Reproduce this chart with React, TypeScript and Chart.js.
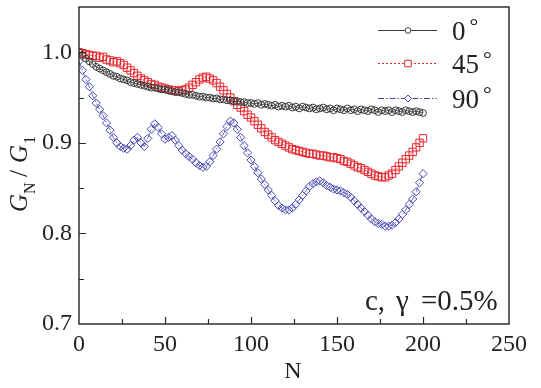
import React, { useEffect, useRef } from "react";
import { Chart, registerables } from "chart.js";

Chart.register(...registerables);

const N_VALUES = [
  0, 2, 4, 6, 8, 10, 12, 14, 16, 18,
  20, 22, 24, 26, 28, 30, 32, 34, 36, 38,
  40, 42, 44, 46, 48, 50, 52, 54, 56, 58,
  60, 62, 64, 66, 68, 70, 72, 74, 76, 78,
  80, 82, 84, 86, 88, 90, 92, 94, 96, 98,
  100, 102, 104, 106, 108, 110, 112, 114, 116, 118,
  120, 122, 124, 126, 128, 130, 132, 134, 136, 138,
  140, 142, 144, 146, 148, 150, 152, 154, 156, 158,
  160, 162, 164, 166, 168, 170, 172, 174, 176, 178,
  180, 182, 184, 186, 188, 190, 192, 194, 196, 198,
  200,
];

const G_0DEG = [
  1.0, 0.997, 0.993, 0.99, 0.987, 0.984, 0.982, 0.98, 0.978, 0.976,
  0.974, 0.973, 0.971, 0.97, 0.969, 0.967, 0.966, 0.965, 0.964, 0.963,
  0.962, 0.961, 0.961, 0.96, 0.959, 0.959, 0.958, 0.957, 0.956, 0.956,
  0.955, 0.954, 0.953, 0.953, 0.952, 0.951, 0.951, 0.95, 0.95, 0.949,
  0.949, 0.948, 0.948, 0.947, 0.947, 0.946, 0.946, 0.945, 0.945, 0.944,
  0.944, 0.943, 0.944, 0.942, 0.943, 0.942, 0.941, 0.942, 0.94, 0.941,
  0.94, 0.941, 0.939, 0.94, 0.938, 0.94, 0.939, 0.938, 0.939, 0.937,
  0.938, 0.939, 0.937, 0.938, 0.936, 0.938, 0.937, 0.936, 0.938, 0.936,
  0.937, 0.935, 0.937, 0.936, 0.935, 0.937, 0.936, 0.934, 0.936, 0.935,
  0.936, 0.934, 0.936, 0.935, 0.934, 0.936, 0.935, 0.934, 0.935, 0.934,
  0.933,
];

const G_45DEG = [
  1.0, 0.999, 0.998, 0.997, 0.996, 0.996, 0.994, 0.995, 0.992, 0.991,
  0.989, 0.99, 0.988, 0.986, 0.983, 0.98, 0.977, 0.974, 0.971, 0.969,
  0.967, 0.965, 0.964, 0.962, 0.961, 0.96, 0.959, 0.958, 0.958, 0.957,
  0.958, 0.959, 0.961, 0.964, 0.967, 0.97, 0.972, 0.973, 0.971, 0.969,
  0.966, 0.962, 0.958, 0.954, 0.95, 0.946, 0.942, 0.939, 0.935, 0.931,
  0.928, 0.924, 0.92, 0.916, 0.912, 0.909, 0.906, 0.903, 0.901, 0.899,
  0.897, 0.895, 0.893, 0.892, 0.891, 0.89, 0.889, 0.888, 0.888, 0.887,
  0.886, 0.886, 0.885, 0.884, 0.884, 0.883, 0.882, 0.88, 0.879, 0.877,
  0.875, 0.873, 0.872, 0.87, 0.868, 0.866, 0.864, 0.863, 0.862, 0.862,
  0.864, 0.866, 0.87, 0.874, 0.878, 0.882, 0.886, 0.89, 0.895, 0.9,
  0.905,
];

const G_90DEG = [
  0.99, 0.98, 0.97, 0.962, 0.952, 0.944, 0.937, 0.93, 0.922, 0.914,
  0.906, 0.9, 0.896, 0.894, 0.893, 0.897, 0.903, 0.906, 0.9, 0.896,
  0.905, 0.915, 0.921, 0.917, 0.91, 0.904, 0.906, 0.908, 0.903, 0.897,
  0.892, 0.888, 0.885, 0.882, 0.878, 0.875, 0.873, 0.874, 0.879, 0.886,
  0.893, 0.901, 0.91, 0.918, 0.924, 0.922, 0.915, 0.906, 0.897, 0.889,
  0.881, 0.874, 0.867, 0.86, 0.854, 0.848, 0.842, 0.836, 0.831, 0.828,
  0.826, 0.826, 0.828, 0.832, 0.837, 0.842, 0.847, 0.852, 0.855, 0.857,
  0.858, 0.856, 0.853, 0.851, 0.849, 0.848, 0.847, 0.845, 0.843, 0.84,
  0.836, 0.832, 0.828, 0.824, 0.82, 0.816, 0.813, 0.811, 0.81, 0.808,
  0.808, 0.809, 0.812, 0.816, 0.821, 0.826, 0.832, 0.838, 0.846, 0.856,
  0.866,
];

const X_TICKS = [0, 50, 100, 150, 200, 250];
const Y_TICKS = [0.7, 0.8, 0.9, 1.0];
const Y_MAX = 1.05;
const X_MINOR_STEP = 25;
const Y_MINOR_STEP = 0.05;
const SERIES_LABELS = ["0", "45", "90"];
const X_TITLE = "N";
const ANNOTATION_PARTS = ["c,", "γ", "=0.5%"];

const SERIF = "'Liberation Serif', 'Times New Roman', serif";
const AXIS_COLOR = "#262626";
const COLORS = ["#3a3a3a", "#e8262e", "#4646b4"];
const DASHES: number[][] = [[], [2, 2], [6, 2, 1.5, 2]];
const STYLES = ["circle", "rect", "rectRot"];
const RADII = [3.4, 5.2, 4.1];

function markerPath(ctx: CanvasRenderingContext2D, style: string, x: number, y: number, r: number) {
  ctx.beginPath();
  if (style === "circle") {
    ctx.arc(x, y, r, 0, Math.PI * 2);
  } else if (style === "rect") {
    const s = r * Math.SQRT1_2;
    ctx.rect(x - s, y - s, 2 * s, 2 * s);
  } else {
    ctx.moveTo(x - r, y);
    ctx.lineTo(x, y - r);
    ctx.lineTo(x + r, y);
    ctx.lineTo(x, y + r);
    ctx.closePath();
  }
}

const decorPlugin = {
  id: "decor",
  afterDraw(chart: any) {
    const { ctx, chartArea: a, scales } = chart;
    const xs = scales.x;
    const ys = scales.y;
    ctx.save();
    // frame
    ctx.strokeStyle = AXIS_COLOR;
    ctx.lineWidth = 1.4;
    ctx.setLineDash([]);
    ctx.strokeRect(a.left, a.top, a.right - a.left, a.bottom - a.top);
    // inward ticks
    ctx.lineWidth = 1.2;
    ctx.beginPath();
    const xMin = X_TICKS[0];
    const xMax = X_TICKS[X_TICKS.length - 1];
    for (let v = xMin + X_MINOR_STEP; v < xMax - 1e-9; v += X_MINOR_STEP) {
      const px = Math.round(xs.getPixelForValue(v)) + 0.5;
      const major = X_TICKS.some((t) => Math.abs(t - v) < 1e-9);
      ctx.moveTo(px, a.bottom);
      ctx.lineTo(px, a.bottom - (major ? 7 : 5));
    }
    for (let v = Y_TICKS[0] + Y_MINOR_STEP; v < Y_MAX - 1e-9; v += Y_MINOR_STEP) {
      const py = Math.round(ys.getPixelForValue(v)) + 0.5;
      const major = Y_TICKS.some((t) => Math.abs(t - v) < 1e-9);
      ctx.moveTo(a.left, py);
      ctx.lineTo(a.left + (major ? 7 : 5), py);
    }
    ctx.stroke();

    // x title
    ctx.fillStyle = "#222";
    ctx.font = `24px ${SERIF}`;
    ctx.textAlign = "center";
    ctx.textBaseline = "alphabetic";
    ctx.fillText(X_TITLE, 293, 378);

    // y title: G_N / G_1 rotated
    ctx.save();
    ctx.translate(27, 212);
    ctx.rotate(-Math.PI / 2);
    ctx.textAlign = "left";
    ctx.font = `italic 25px ${SERIF}`;
    ctx.fillText("G", 0, 0);
    ctx.font = `16px ${SERIF}`;
    ctx.fillText("N", 18, 8);
    ctx.font = `25px ${SERIF}`;
    ctx.fillText("/", 35, 0);
    ctx.font = `italic 25px ${SERIF}`;
    ctx.fillText("G", 49, 0);
    ctx.font = `16px ${SERIF}`;
    ctx.fillText("1", 68, 8);
    ctx.restore();

    // legend
    const rows = [30, 63, 98];
    chart.data.datasets.forEach((ds: any, i: number) => {
      const y = rows[i] + 0.5;
      ctx.strokeStyle = COLORS[i];
      ctx.lineWidth = 1;
      ctx.setLineDash(DASHES[i]);
      ctx.beginPath();
      ctx.moveTo(378, y);
      ctx.lineTo(437, y);
      ctx.stroke();
      ctx.setLineDash([]);
      ctx.fillStyle = "#fff";
      markerPath(ctx, STYLES[i], 408, y, RADII[i] - 0.6);
      ctx.fill();
      ctx.stroke();
      ctx.fillStyle = "#222";
      ctx.font = `27px ${SERIF}`;
      ctx.textAlign = "left";
      ctx.textBaseline = "alphabetic";
      const label = SERIES_LABELS[i];
      ctx.fillText(label, 452, rows[i] + 10);
      const w = ctx.measureText(label).width;
      ctx.font = `22px ${SERIF}`;
      ctx.fillText("°", 452 + w + 4, rows[i] + 3);
    });

    // annotation
    ctx.fillStyle = "#222";
    ctx.font = `29px ${SERIF}`;
    ctx.textBaseline = "alphabetic";
    ctx.textAlign = "left";
    ctx.fillText(ANNOTATION_PARTS[0], 365, 310);
    ctx.fillText(ANNOTATION_PARTS[1], 396, 310);
    ctx.fillText(ANNOTATION_PARTS[2], 421, 310);
    ctx.restore();
  },
};

export default function App() {
  const ref = useRef<HTMLCanvasElement | null>(null);

  useEffect(() => {
    if (!ref.current) return;
    const series = [G_0DEG, G_45DEG, G_90DEG];
    const chart = new Chart(ref.current, {
      type: "scatter",
      data: {
        datasets: series.map((vals, i) => ({
          label: SERIES_LABELS[i],
          data: N_VALUES.map((n, j) => ({ x: n, y: vals[j] })),
          showLine: true,
          borderColor: COLORS[i],
          borderWidth: 0.8,
          borderDash: DASHES[i],
          pointStyle: STYLES[i] as any,
          pointRadius: RADII[i],
          pointBorderWidth: 1,
          pointBorderColor: COLORS[i],
          pointBackgroundColor: "rgba(0,0,0,0)",
          fill: false,
          tension: 0,
        })),
      },
      options: {
        responsive: false,
        maintainAspectRatio: false,
        devicePixelRatio: 1,
        animation: false,
        layout: { padding: { left: 0, top: 7, right: 32, bottom: 0 } },
        plugins: {
          legend: { display: false },
          tooltip: { enabled: false },
        },
        scales: {
          x: {
            type: "linear",
            min: X_TICKS[0],
            max: X_TICKS[X_TICKS.length - 1],
            grid: { display: false, drawTicks: false },
            border: { display: false },
            afterBuildTicks: (s: any) => {
              s.ticks = X_TICKS.map((v) => ({ value: v }));
            },
            afterFit: (s: any) => {
              s.height = 64;
              s.paddingLeft = 0;
              s.paddingRight = 0;
            },
            ticks: {
              padding: 6,
              maxRotation: 0,
              autoSkip: false,
              color: "#222",
              font: { family: SERIF, size: 24 },
              callback: (v: any) => String(v),
            },
          },
          y: {
            type: "linear",
            min: Y_TICKS[0],
            max: Y_MAX,
            grid: { display: false, drawTicks: false },
            border: { display: false },
            afterBuildTicks: (s: any) => {
              s.ticks = Y_TICKS.map((v) => ({ value: v }));
            },
            afterFit: (s: any) => {
              s.width = 79;
              s.paddingTop = 0;
              s.paddingBottom = 0;
            },
            ticks: {
              padding: 7,
              autoSkip: false,
              color: "#222",
              font: { family: SERIF, size: 24 },
              callback: (v: any) => Number(v).toFixed(1),
            },
          },
        },
      },
      plugins: [decorPlugin],
    });
    return () => chart.destroy();
  }, []);

  return (
    <div style={{ position: "absolute", left: 0, top: 0, width: 541, height: 388, background: "#fff" }}>
      <canvas ref={ref} width={541} height={388} style={{ display: "block", width: 541, height: 388 }} />
    </div>
  );
}
